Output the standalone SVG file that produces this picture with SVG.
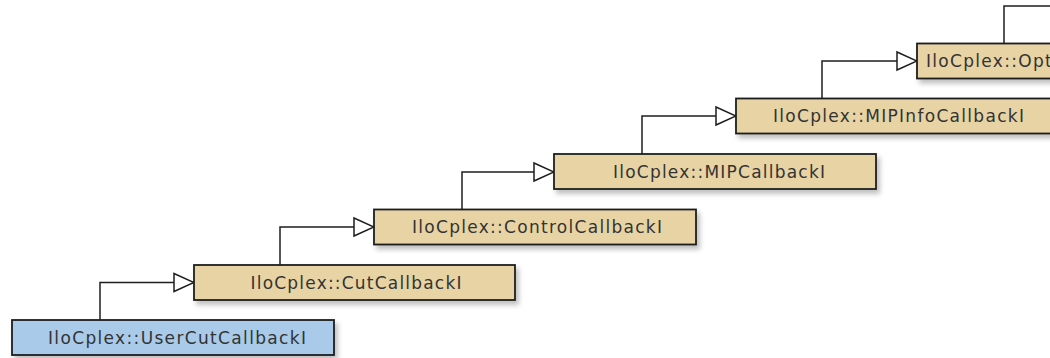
<svg xmlns="http://www.w3.org/2000/svg" width="1050" height="358" viewBox="0 0 1050 358">
<style>
.box{stroke:#1e1e1e;stroke-width:1.8;filter:url(#sh)}
.tan{fill:#e8d3a5}
.blue{fill:#a9cbe9}
.lbl{font-family:"DejaVu Sans",Verdana,sans-serif;font-size:17px;fill:#333;text-anchor:middle}
.edge{fill:none;stroke:#1e1e1e;stroke-width:1.5;marker-end:url(#tri)}
</style>
<defs>
<filter id="sh" x="-10%" y="-30%" width="130%" height="180%">
<feDropShadow dx="3" dy="4" stdDeviation="2.5" flood-color="#000" flood-opacity="0.25"/>
</filter>
<marker id="tri" markerUnits="userSpaceOnUse" markerWidth="22" markerHeight="22" viewBox="0 0 22 22" refX="21" refY="11" orient="auto">
<path d="M1,2 L21,11 L1,20 Z" fill="#fff" stroke="#1e1e1e" stroke-width="1.5"/>
</marker>
</defs>
<g id="connectors">
<path class="edge" d="M100,320 V282.5 H194"/>
<path class="edge" d="M280,265 V227 H374"/>
<path class="edge" d="M462,209.5 V172 H554"/>
<path class="edge" d="M642,154 V116 H736"/>
<path class="edge" d="M822,98.5 V61 H917"/>
<path class="edge" d="M1004,43.5 V6 H1100"/>
</g>
<g id="UserCutCallbackI">
<rect class="box blue" x="12" y="320" width="322" height="35"/>
<text class="lbl" x="177" y="343.5" textLength="258" lengthAdjust="spacing">IloCplex::UserCutCallbackI</text>
</g>
<g id="CutCallbackI">
<rect class="box tan" x="194" y="265" width="321" height="35"/>
<text class="lbl" x="356" y="288.5" textLength="211" lengthAdjust="spacing">IloCplex::CutCallbackI</text>
</g>
<g id="ControlCallbackI">
<rect class="box tan" x="374" y="209.5" width="322" height="35"/>
<text class="lbl" x="537" y="233" textLength="250" lengthAdjust="spacing">IloCplex::ControlCallbackI</text>
</g>
<g id="MIPCallbackI">
<rect class="box tan" x="554" y="154" width="322" height="35"/>
<text class="lbl" x="719" y="177.5" textLength="212" lengthAdjust="spacing">IloCplex::MIPCallbackI</text>
</g>
<g id="MIPInfoCallbackI">
<rect class="box tan" x="736" y="98.5" width="330" height="35"/>
<text class="lbl" x="898.5" y="122" textLength="251" lengthAdjust="spacing">IloCplex::MIPInfoCallbackI</text>
</g>
<g id="OptimizationCallbackI">
<rect class="box tan" x="917" y="43.5" width="400" height="35"/>
<text class="lbl" x="926" y="67" style="text-anchor:start;letter-spacing:1.3px">IloCplex::OptimizationCallbackI</text>
</g>
</svg>
